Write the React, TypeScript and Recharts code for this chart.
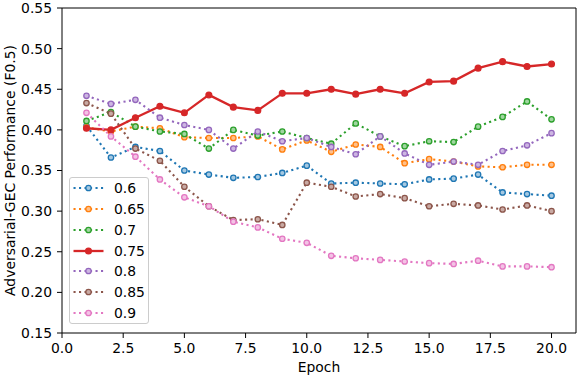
import React from 'react';
import { LineChart, Line, XAxis, YAxis, Legend, ReferenceLine } from 'recharts';

const epochs = [1, 2, 3, 4, 5, 6, 7, 8, 9, 10, 11, 12, 13, 14, 15, 16, 17, 18, 19, 20];
const s06 = [0.405, 0.366, 0.379, 0.374, 0.350, 0.345, 0.341, 0.342, 0.347, 0.356, 0.334, 0.335, 0.334, 0.333, 0.339, 0.340, 0.345, 0.323, 0.321, 0.319];
const s065 = [0.403, 0.398, 0.404, 0.402, 0.391, 0.390, 0.390, 0.392, 0.376, 0.387, 0.373, 0.382, 0.379, 0.359, 0.364, 0.361, 0.355, 0.354, 0.357, 0.357];
const s07 = [0.411, 0.422, 0.404, 0.398, 0.395, 0.377, 0.400, 0.393, 0.398, 0.390, 0.383, 0.408, 0.392, 0.380, 0.386, 0.385, 0.404, 0.416, 0.435, 0.413];
const s075 = [0.402, 0.400, 0.415, 0.429, 0.421, 0.443, 0.428, 0.424, 0.445, 0.445, 0.450, 0.444, 0.450, 0.445, 0.459, 0.460, 0.476, 0.484, 0.478, 0.481];
const s08 = [0.442, 0.432, 0.437, 0.415, 0.406, 0.400, 0.377, 0.398, 0.386, 0.390, 0.379, 0.370, 0.392, 0.371, 0.357, 0.361, 0.357, 0.374, 0.381, 0.396];
const s085 = [0.433, 0.420, 0.377, 0.362, 0.330, 0.306, 0.289, 0.290, 0.283, 0.335, 0.330, 0.318, 0.321, 0.316, 0.306, 0.309, 0.307, 0.302, 0.307, 0.300];
const s09 = [0.421, 0.392, 0.367, 0.339, 0.317, 0.306, 0.287, 0.280, 0.266, 0.261, 0.245, 0.242, 0.240, 0.238, 0.236, 0.235, 0.239, 0.232, 0.232, 0.231];

const xTicks = [0, 2.5, 5, 7.5, 10, 12.5, 15, 17.5, 20];
const yTicks = [0.15, 0.2, 0.25, 0.3, 0.35, 0.4, 0.45, 0.5, 0.55];

const series = [
  { key: 's06', name: '0.6', values: s06, color: '#1f77b4', light: '#a5c8e1', solid: false },
  { key: 's065', name: '0.65', values: s065, color: '#ff7f0e', light: '#ffc08a', solid: false },
  { key: 's07', name: '0.7', values: s07, color: '#2ca02c', light: '#a0d6a0', solid: false },
  { key: 's075', name: '0.75', values: s075, color: '#d62728', light: '#d62728', solid: true },
  { key: 's08', name: '0.8', values: s08, color: '#9467bd', light: '#cdb6e2', solid: false },
  { key: 's085', name: '0.85', values: s085, color: '#8c564b', light: '#c9aaa4', solid: false },
  { key: 's09', name: '0.9', values: s09, color: '#e377c2', light: '#f3c3e5', solid: false },
];

const data = epochs.map((e, i) => {
  const row: Record<string, number> = { epoch: e };
  series.forEach((s) => {
    row[s.key] = s.values[i];
  });
  return row;
});

const FONT = 'DejaVu Sans, sans-serif';
const FS = 13.9;
const DASH = '2.1 3.4';

const makeDot = (color: string, light: string, solid: boolean) => (p: any) => {
  if (p.cx == null || p.cy == null) return <g key={p.key} />;
  return (
    <circle
      key={p.key}
      cx={p.cx}
      cy={p.cy}
      r={solid ? 2.9 : 2.7}
      fill={light}
      stroke={color}
      strokeWidth={1.3}
    />
  );
};

const LegendBox = () => (
  <div
    style={{
      width: 80,
      height: 147,
      border: '1px solid #cccccc',
      borderRadius: 3,
      background: 'rgba(255,255,255,0.8)',
      fontFamily: FONT,
      fontSize: FS,
      color: '#000',
      boxSizing: 'border-box',
    }}
  >
    {series.map((s) => (
      <div key={s.key} style={{ height: 20.75, display: 'flex', alignItems: 'center' }}>
        <svg width={44} height={20} style={{ display: 'block' }}>
          <line
            x1={3.5}
            x2={33.5}
            y1={10}
            y2={10}
            stroke={s.color}
            strokeWidth={s.solid ? 2.3 : 2.1}
            strokeDasharray={s.solid ? undefined : DASH}
          />
          <circle cx={18.5} cy={10} r={s.solid ? 2.9 : 2.7} fill={s.light} stroke={s.color} strokeWidth={1.3} />
        </svg>
        <span style={{ lineHeight: '20px' }}>{s.name}</span>
      </div>
    ))}
  </div>
);

const YLabel = () => (
  <text
    x={10}
    y={170.5}
    transform="rotate(-90, 10, 170.5)"
    textAnchor="middle"
    dominantBaseline="central"
    fontFamily={FONT}
    fontSize={FS}
    fill="#000"
  >
    Adversarial-GEC Performance (F0.5)
  </text>
);

export default function App() {
  return (
    <div style={{ position: 'absolute', left: 0, top: 0, width: 578, height: 376, background: '#fff' }}>
      <LineChart
        width={578}
        height={376}
        data={data}
        margin={{ top: 8, right: 2, bottom: 0, left: 0 }}
        style={{ fontFamily: FONT }}
      >
        <XAxis
          dataKey="epoch"
          type="number"
          domain={[0, 21]}
          ticks={xTicks}
          allowDataOverflow
          tickFormatter={(v: number) => v.toFixed(1)}
          height={43}
          stroke="#000"
          tickSize={5}
          tickMargin={5}
          tick={{ fill: '#000', fontSize: FS, fontFamily: FONT }}
          label={{ value: 'Epoch', position: 'insideBottom', offset: 4, fill: '#000', fontSize: FS, fontFamily: FONT }}
        />
        <YAxis
          type="number"
          domain={[0.15, 0.55]}
          ticks={yTicks}
          allowDataOverflow
          tickFormatter={(v: number) => v.toFixed(2)}
          width={62}
          stroke="#000"
          tickSize={5}
          tickMargin={5}
          tick={{ fill: '#000', fontSize: FS, fontFamily: FONT }}
          label={<YLabel />}
        />
        <ReferenceLine x={21} stroke="#000" strokeWidth={1} />
        <ReferenceLine y={0.55} stroke="#000" strokeWidth={1} />
        {series.map((s) => (
          <Line
            key={s.key}
            type="linear"
            dataKey={s.key}
            name={s.name}
            stroke={s.color}
            strokeWidth={s.solid ? 2.3 : 2.1}
            strokeDasharray={s.solid ? undefined : DASH}
            dot={makeDot(s.color, s.light, s.solid)}
            activeDot={false}
            isAnimationActive={false}
          />
        ))}
        <Legend
          layout="vertical"
          align="center"
          verticalAlign="middle"
          content={() => <LegendBox />}
          wrapperStyle={{ left: 69, top: 177, width: 80, height: 147 }}
        />
      </LineChart>
    </div>
  );
}
